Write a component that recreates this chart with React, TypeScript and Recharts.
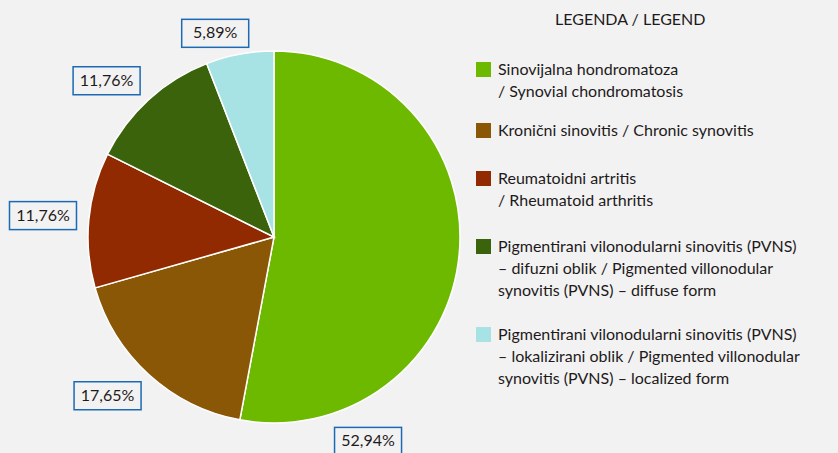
import React from "react";
import { PieChart, Pie, Cell } from "recharts";

const categories = [
  "Sinovijalna hondromatoza / Synovial chondromatosis",
  "Kronični sinovitis / Chronic synovitis",
  "Reumatoidni artritis / Rheumatoid arthritis",
  "PVNS – difuzni oblik / diffuse form",
  "PVNS – lokalizirani oblik / localized form",
];
const values = [52.94, 17.65, 11.76, 11.76, 5.89];
const labels = ["52,94%", "17,65%", "11,76%", "11,76%", "5,89%"];
const colors = ["#6cb900", "#8a5707", "#912a00", "#3a630b", "#a7e3e4"];

const legendLines = [
  ["Sinovijalna hondromatoza", "/ Synovial chondromatosis"],
  ["Kronični sinovitis / Chronic synovitis"],
  ["Reumatoidni artritis", "/ Rheumatoid arthritis"],
  [
    "Pigmentirani vilonodularni sinovitis (PVNS)",
    "– difuzni oblik / Pigmented villonodular",
    "synovitis (PVNS) – diffuse form",
  ],
  [
    "Pigmentirani vilonodularni sinovitis (PVNS)",
    "– lokalizirani oblik / Pigmented villonodular",
    "synovitis (PVNS) – localized form",
  ],
];
const legendTops = [58, 119, 167, 235, 323];

const data = categories.map((name, i) => ({ name, value: values[i], label: labels[i] }));

const FONT = "Lato, 'Open Sans', sans-serif";
const RAD = Math.PI / 180;
// hand-placed label nudges (angle in degrees, distance beyond the rim)
const labelAngleShift = [-60, -4, 0, 4.6, 5.5];
const labelGap = [39, 44, 46, 43, 26];

function renderLabel(props: any) {
  const { cx, cy, midAngle, outerRadius, index } = props;
  const angle = midAngle + labelAngleShift[index];
  const r = outerRadius + labelGap[index];
  const x = cx + r * Math.cos(-angle * RAD);
  const y = cy + r * Math.sin(-angle * RAD);
  const w = 67;
  const h = 28;
  return (
    <g key={`lbl-${index}`}>
      <rect x={x - w / 2} y={y - h / 2} width={w} height={h} fill="#f2f2f2" stroke="#1b6ab3" strokeWidth={1.5} />
      <text x={x} y={y + 1} textAnchor="middle" dominantBaseline="middle" fontSize={16} fill="#1e1a1b" fontFamily={FONT}>
        {labels[index]}
      </text>
    </g>
  );
}

export default function App() {
  return (
    <div style={{ position: "fixed", left: 0, top: 0, width: 838, height: 453, background: "#f2f2f2", fontFamily: FONT, color: "#1e1a1b" }}>
      <PieChart width={838} height={453} margin={{ top: 0, right: 0, bottom: 0, left: 0 }} style={{ position: "absolute", left: 0, top: 0 }}>
        <Pie
          data={data}
          dataKey="value"
          nameKey="name"
          cx={274}
          cy={237}
          outerRadius={186}
          startAngle={90}
          endAngle={-270}
          stroke="#ffffff"
          strokeWidth={1.5}
          label={renderLabel}
          labelLine={false}
          isAnimationActive={false}
        >
          {data.map((d, i) => (
            <Cell key={d.name} fill={colors[i]} />
          ))}
        </Pie>
      </PieChart>
      <div style={{ position: "absolute", left: 555, top: 9, fontSize: 16, whiteSpace: "nowrap" }}>LEGENDA / LEGEND</div>
      {legendLines.map((lines, i) => (
        <div key={i} style={{ position: "absolute", left: 476, top: legendTops[i], whiteSpace: "nowrap" }}>
          <div style={{ position: "absolute", left: 0, top: 4, width: 15, height: 15, background: colors[i] }} />
          <div style={{ marginLeft: 22, fontSize: 16, lineHeight: "22px" }}>
            {lines.map((l, j) => (
              <div key={j}>{l}</div>
            ))}
          </div>
        </div>
      ))}
    </div>
  );
}
